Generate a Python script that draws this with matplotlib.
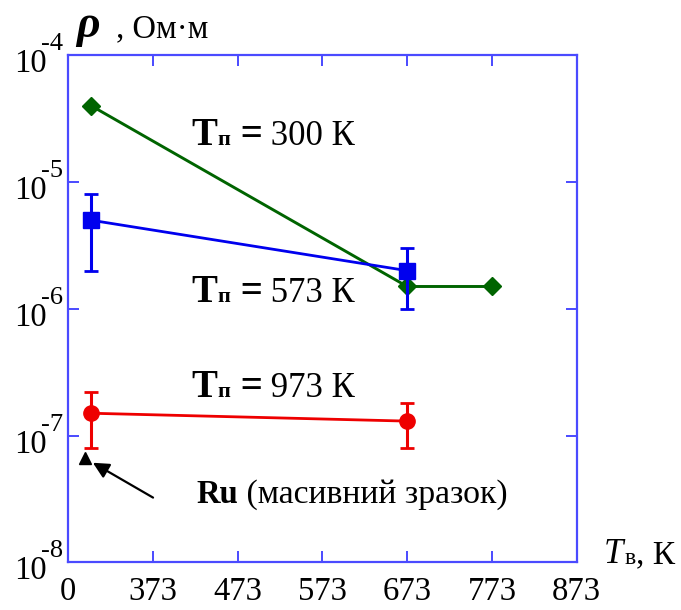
import matplotlib
matplotlib.use("Agg")
import matplotlib.pyplot as plt
from matplotlib.ticker import NullLocator, NullFormatter

plt.rcParams["font.family"] = ["Liberation Serif", "DejaVu Serif"]

# T_в (K) vs resistivity (Ohm*m); x axis starts at 273, labelled "0"
t300_x = [300, 673, 773]
t300_rho = [4.0e-5, 1.5e-6, 1.5e-6]

t573_x = [300, 673]
t573_rho = [5.0e-6, 2.0e-6]
t573_lo = [2.0e-6, 1.0e-6]
t573_hi = [8.0e-6, 3.0e-6]

t973_x = [300, 673]
t973_rho = [1.5e-7, 1.3e-7]
t973_lo = [8.0e-8, 8.0e-8]
t973_hi = [2.2e-7, 1.8e-7]

ru_x = [293]
ru_rho = [6.7e-8]

xticks = [273, 373, 473, 573, 673, 773, 873]
xticklabels = ["0", "373", "473", "573", "673", "773", "873"]
yticks = [1e-8, 1e-7, 1e-6, 1e-5, 1e-4]
yexps = ["-8", "-7", "-6", "-5", "-4"]

GREEN = "#006400"
BLUE = "#0000ee"
RED = "#ee0000"
FRAME = "#4a4aff"

fig = plt.figure(figsize=(6.81, 6.10), dpi=100)
ax = fig.add_axes([0.1003, 0.0782, 0.7465, 0.8311])
ax.set_yscale("log")
ax.set_xlim(273, 873)
ax.set_ylim(1e-8, 1e-4)

ax.plot(t300_x, t300_rho, color=GREEN, lw=2.1, marker="D", ms=9, zorder=3)

err573 = [[v - lo for v, lo in zip(t573_rho, t573_lo)],
          [hi - v for v, hi in zip(t573_rho, t573_hi)]]
ax.errorbar(t573_x, t573_rho, yerr=err573, color=BLUE, lw=2.0, marker="s",
            ms=11, capsize=5, capthick=2.0, elinewidth=2.2, zorder=4)

err973 = [[v - lo for v, lo in zip(t973_rho, t973_lo)],
          [hi - v for v, hi in zip(t973_rho, t973_hi)]]
ax.errorbar(t973_x, t973_rho, yerr=err973, color=RED, lw=2.0, marker="o",
            ms=11, capsize=5, capthick=2.0, elinewidth=2.2, zorder=4)

ax.plot(ru_x, ru_rho, color="black", marker="^", ms=9, ls="none", zorder=4)
ax.annotate("", xy=(302, 6.1e-8), xytext=(373, 3.24e-8),
            arrowprops=dict(arrowstyle="-|>", color="black", lw=1.6,
                            mutation_scale=24, shrinkA=0, shrinkB=0))

# frame and ticks
for sp in ax.spines.values():
    sp.set_color(FRAME)
    sp.set_linewidth(1.6)
ax.set_xticks(xticks)
ax.set_xticklabels(xticklabels)
ax.set_yticks(yticks)
ax.yaxis.set_major_formatter(NullFormatter())
ax.yaxis.set_minor_locator(NullLocator())
ax.yaxis.set_minor_formatter(NullFormatter())
ax.tick_params(axis="both", which="major", direction="in", length=8,
               width=1.4, color=FRAME, top=True, right=True,
               labelcolor="black")
ax.tick_params(axis="x", pad=10, labelsize=23.5)

# y tick labels drawn as "10" with a raised hyphen exponent, like the original
ytr = ax.get_yaxis_transform()
for v, e in zip(yticks, yexps):
    ax.annotate("10", xy=(0, v), xycoords=ytr, xytext=(-22, -17),
                textcoords="offset pixels", ha="right", va="baseline",
                fontsize=23.5, annotation_clip=False)
    ax.annotate(e, xy=(0, v), xycoords=ytr, xytext=(-27, 5),
                textcoords="offset pixels", ha="left", va="baseline",
                fontsize=19, annotation_clip=False)


def rich(x, y, parts):
    """Place text pieces one after another on a common baseline (axes fraction)."""
    prev = None
    for s, kw, dy in parts:
        if prev is None:
            prev = ax.annotate(s, xy=(x, y), xycoords="axes fraction",
                               xytext=(0, dy), textcoords="offset points",
                               ha="left", va="baseline", **kw)
        else:
            prev = ax.annotate(s, xy=(1, y), xycoords=(prev, "axes fraction"),
                               xytext=(0, dy), textcoords="offset points",
                               ha="left", va="baseline", **kw)
    return prev


big = dict(fontsize=28, fontweight="bold")
sub = dict(fontsize=16, fontweight="bold")
num = dict(fontsize=25)
for y, lab in [(0.823, "300"), (0.513, "573"), (0.326, "973")]:
    rich(0.243, y, [("T", big, 0), ("п", sub, 0), (" =", big, 0),
                    (" " + lab + " К", num, 0)])

rich(0.252, 0.117, [("Ru", dict(fontsize=23.5, fontweight="bold"), 0),
                    (" (масивний зразок)", dict(fontsize=24.3), 0)])

# axis labels as free text
fig.text(0.112, 0.939, "ρ", fontsize=33, style="italic", fontweight="bold",
         ha="left", va="baseline")
fig.text(0.158, 0.939, " , Ом·м", fontsize=23.5, ha="left", va="baseline")

fig.text(0.887, 0.077, "T", fontsize=25, style="italic", ha="left", va="baseline")
fig.text(0.917, 0.075, "в", fontsize=17, ha="left", va="baseline")
fig.text(0.934, 0.077, ", К", fontsize=24, ha="left", va="baseline")

fig.savefig("out.png", dpi=100)
